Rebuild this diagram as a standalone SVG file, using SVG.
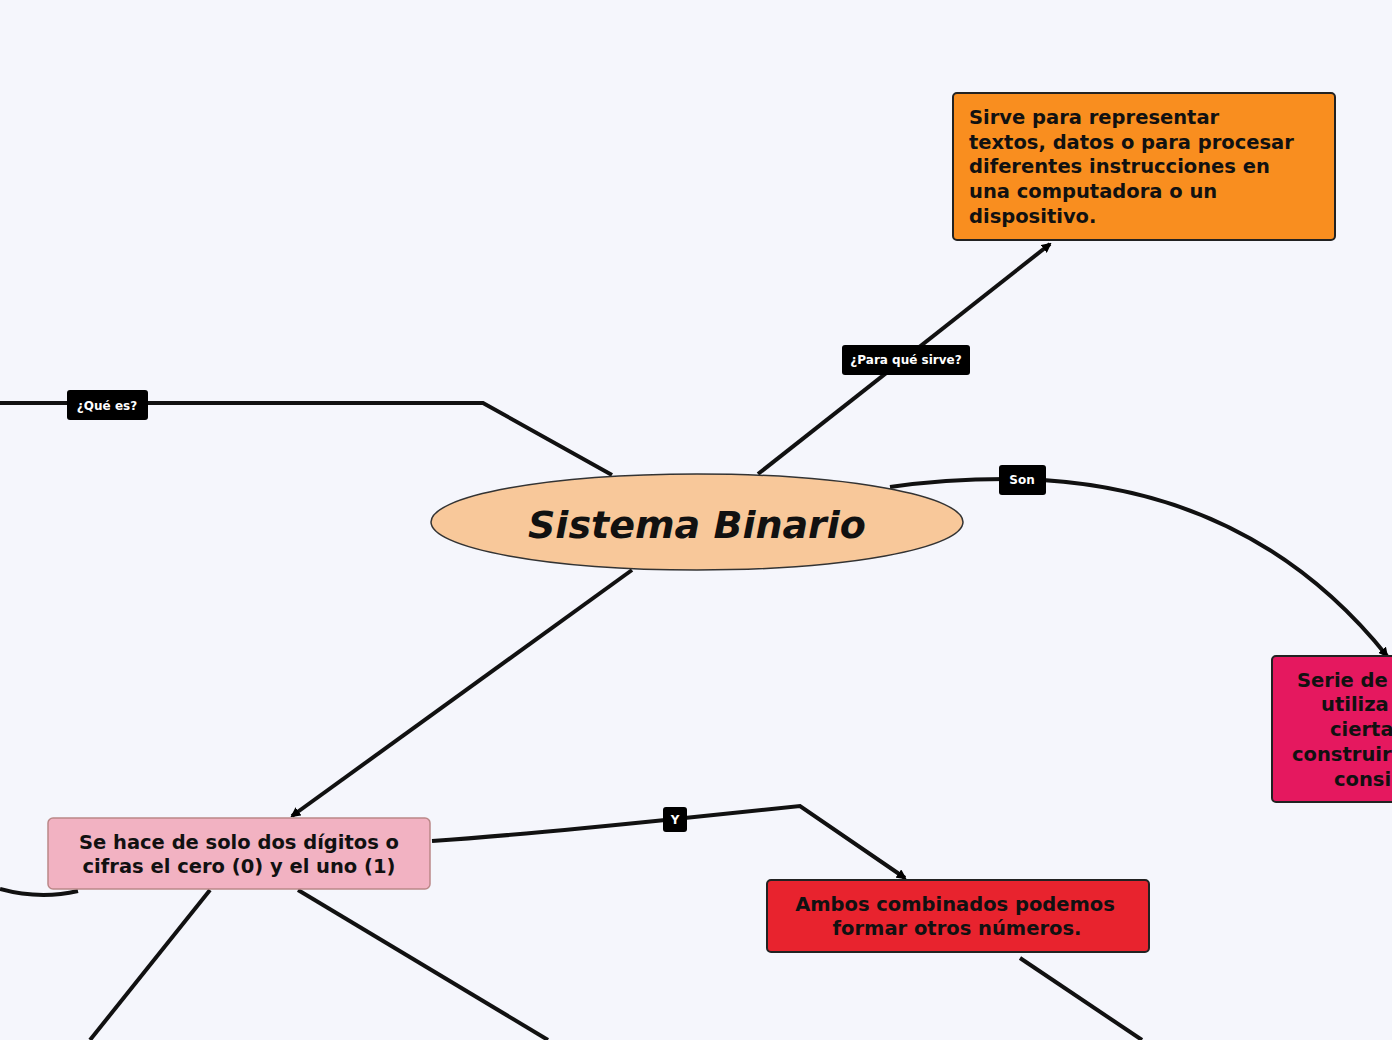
<svg xmlns="http://www.w3.org/2000/svg" width="1392" height="1040" viewBox="0 0 1392 1040">
<defs>
<marker id="arr" markerWidth="10" markerHeight="10" refX="8" refY="5" orient="auto" markerUnits="userSpaceOnUse" viewBox="0 0 10 10"><path d="M0,0 L10,5 L0,10 z" fill="#000"/></marker>
<style>
.c{fill:none;stroke:#111;stroke-width:4}
.n{stroke:#222;stroke-width:2}
.t{font-family:"DejaVu Sans",Verdana,sans-serif;font-weight:bold;font-size:19.5px;fill:#111}
.lb{fill:#000}
.lt{font-family:"DejaVu Sans",sans-serif;font-weight:bold;font-size:12px;fill:#fff;text-anchor:middle}
</style>
</defs>
<rect width="1392" height="1040" fill="#f5f6fc"/>
<g id="connectors">
<path class="c" d="M0,403 L483,403 L612,475"/>
<path class="c" d="M758,474 L1050,244" marker-end="url(#arr)" style="stroke-width:4"/>
<path class="c" d="M890,487 Q950,478 1020,479 Q1250,485 1387,656" marker-end="url(#arr)"/>
<path class="c" d="M632,570 L292,816" marker-end="url(#arr)"/>
<path class="c" d="M432,841 Q520,835 675,819 L800,806 L905,878" marker-end="url(#arr)"/>
<path class="c" d="M0,889 Q40,900 78,891"/>
<path class="c" d="M210,890 L90,1040"/>
<path class="c" d="M298,890 L548,1040"/>
<path class="c" d="M1020,958 L1142,1040"/>
</g>
<g id="label-que-es"><rect class="lb" x="67" y="390" width="81" height="30" rx="3"/><text class="lt" x="107" y="410">¿Qué es?</text></g>
<g id="label-para-que"><rect class="lb" x="842" y="345" width="128" height="30" rx="3"/><text class="lt" x="906" y="364">¿Para qué sirve?</text></g>
<g id="label-son"><rect class="lb" x="999" y="465" width="47" height="30" rx="3"/><text class="lt" x="1022" y="484">Son</text></g>
<g id="label-y"><rect class="lb" x="663" y="807" width="24" height="25" rx="3"/><text class="lt" x="675" y="824">Y</text></g>
<g id="node-central">
<ellipse cx="697" cy="522" rx="266" ry="48" fill="#f8c89a" stroke="#333" stroke-width="1.5"/>
<text x="697" y="538" text-anchor="middle" font-family="DejaVu Sans,Verdana,sans-serif" font-weight="bold" font-style="italic" font-size="38" fill="#111">Sistema Binario</text>
</g>
<g id="node-sirve">
<rect class="n" x="953" y="93" width="382" height="147" rx="4" fill="#f98e1f"/>
<text class="t" x="969" y="124">Sirve para representar</text>
<text class="t" x="969" y="149">textos, datos o para procesar</text>
<text class="t" x="969" y="173">diferentes instrucciones en</text>
<text class="t" x="969" y="198">una computadora o un</text>
<text class="t" x="969" y="223">dispositivo.</text>
</g>
<g id="node-serie">
<rect class="n" x="1272" y="656" width="140" height="146" rx="4" fill="#e5185f"/>
<text class="t" x="1297" y="687">Serie de</text>
<text class="t" x="1321" y="711">utiliza</text>
<text class="t" x="1330" y="736">cierta</text>
<text class="t" x="1292" y="761">construir</text>
<text class="t" x="1334" y="786">consi</text>
</g>
<g id="node-digitos">
<rect x="48" y="818" width="382" height="71" rx="5" fill="#f2b2c2" stroke="#b88" stroke-width="1.5"/>
<text class="t" x="239" y="849" text-anchor="middle">Se hace de solo dos dígitos o</text>
<text class="t" x="239" y="873" text-anchor="middle">cifras el cero (0) y el uno (1)</text>
</g>
<g id="node-ambos">
<rect class="n" x="767" y="880" width="382" height="72" rx="4" fill="#e8232e"/>
<text class="t" x="955" y="911" text-anchor="middle">Ambos combinados podemos</text>
<text class="t" x="957" y="935" text-anchor="middle">formar otros números.</text>
</g>
</svg>
